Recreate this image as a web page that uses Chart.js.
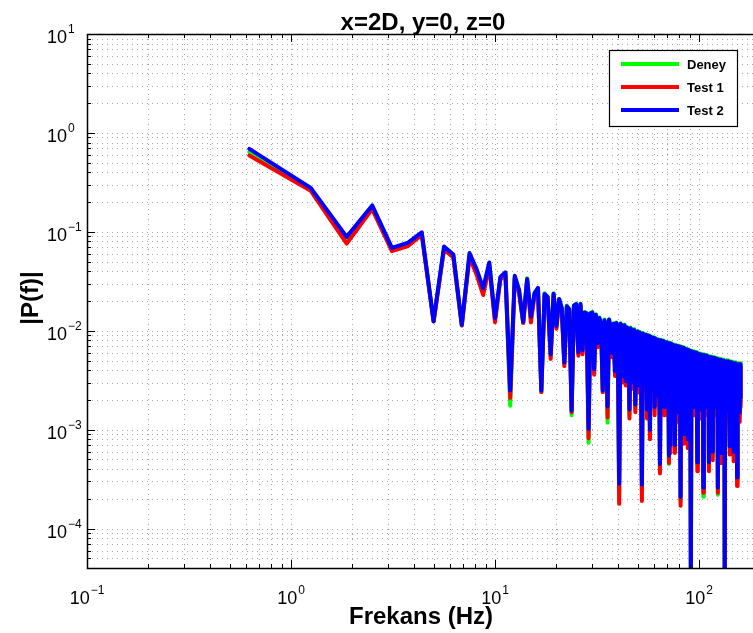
<!DOCTYPE html>
<html>
<head>
<meta charset="utf-8">
<script src="https://cdn.jsdelivr.net/npm/chart.js@4/dist/chart.umd.min.js"></script>
<style>
  html, body { margin: 0; padding: 0; background: #fff; overflow: hidden; }
  canvas { display: block; }
</style>
</head>
<body>
<canvas id="c" width="753" height="633"></canvas>
<script>
// FFT bin frequencies (Hz)
const frekans = [
  0.625,1.25,1.875,2.5,3.125,3.75,4.375,5,
  5.625,6.25,6.875,7.5,8.125,8.75,9.375,10,
  10.625,11.25,11.875,12.5,13.125,13.75,14.375,15,
  15.625,16.25,16.875,17.5,18.125,18.75,19.375,20,
  20.625,21.25,21.875,22.5,23.125,23.75,24.375,25,
  25.625,26.25,26.875,27.5,28.125,28.75,29.375,30,
  30.625,31.25,31.875,32.5,33.125,33.75,34.375,35,
  35.625,36.25,36.875,37.5,38.125,38.75,39.375,40,
  40.625,41.25,41.875,42.5,43.125,43.75,44.375,45,
  45.625,46.25,46.875,47.5,48.125,48.75,49.375,50,
  50.625,51.25,51.875,52.5,53.125,53.75,54.375,55,
  55.625,56.25,56.875,57.5,58.125,58.75,59.375,60,
  60.625,61.25,61.875,62.5,63.125,63.75,64.375,65,
  65.625,66.25,66.875,67.5,68.125,68.75,69.375,70,
  70.625,71.25,71.875,72.5,73.125,73.75,74.375,75,
  75.625,76.25,76.875,77.5,78.125,78.75,79.375,80,
  80.625,81.25,81.875,82.5,83.125,83.75,84.375,85,
  85.625,86.25,86.875,87.5,88.125,88.75,89.375,90,
  90.625,91.25,91.875,92.5,93.125,93.75,94.375,95,
  95.625,96.25,96.875,97.5,98.125,98.75,99.375,100,
  100.625,101.25,101.875,102.5,103.125,103.75,104.375,105,
  105.625,106.25,106.875,107.5,108.125,108.75,109.375,110,
  110.625,111.25,111.875,112.5,113.125,113.75,114.375,115,
  115.625,116.25,116.875,117.5,118.125,118.75,119.375,120,
  120.625,121.25,121.875,122.5,123.125,123.75,124.375,125,
  125.625,126.25,126.875,127.5,128.125,128.75,129.375,130,
  130.625,131.25,131.875,132.5,133.125,133.75,134.375,135,
  135.625,136.25,136.875,137.5,138.125,138.75,139.375,140,
  140.625,141.25,141.875,142.5,143.125,143.75,144.375,145,
  145.625,146.25,146.875,147.5,148.125,148.75,149.375,150,
  150.625,151.25,151.875,152.5,153.125,153.75,154.375,155,
  155.625,156.25,156.875,157.5,158.125,158.75,159.375,160
];

// |P(f)| - measurement
const deney = [
  0.64,0.27,0.083,0.18,0.067,0.075,0.096,0.0125,
  0.068,0.057,0.0113,0.058,0.04,0.025,0.047,0.013,
  0.034,0.038,0.00175,0.035,0.025,0.012,0.034,0.013,
  0.024,0.027,0.0024,0.024,0.022,0.0055,0.024,0.011,
  0.021,0.017,0.0046,0.018,0.0165,0.0014,0.018,0.0188,
  0.0058,0.0188,0.0062,0.0155,0.0152,0.00074,0.0152,0.0155,
  0.0039,0.0147,0.0072,0.0137,0.0112,0.0024,0.013,0.0117,
  0.00118,0.0131,0.0106,0.0058,0.0119,0.0037,0.0121,0.0086,
  0.00022,0.0119,0.0111,0.0033,0.0116,0.0029,0.0109,0.0101,
  0.0014,0.0108,0.0091,0.0028,0.0104,0.0016,0.0096,0.0099,
  0.0026,0.0098,0.0086,0.00024,0.0095,0.0091,0.0028,0.0092,
  0.0015,0.009,0.0085,0.0009,0.0088,0.0081,0.0028,0.0086,
  0.0016,0.0084,0.0081,0.002,0.0082,0.0073,0.0004,0.0081,
  0.0077,0.0023,0.008,0.0016,0.0078,0.0075,0.0019,0.0077,
  0.0069,0.00045,0.0076,0.00065,0.0075,0.0071,0.0019,0.0073,
  0.0067,0.00065,0.0072,0.0069,0.0017,0.0071,0.0014,0.007,
  0.0065,0.00019,0.0069,0.0067,0.0015,0.0068,0.00085,0.0067,
  0.0063,0.0017,0.0066,0.0065,0.00075,0.0065,0.0018,0.0064,
  0.0061,0.000028,0.0063,0.006,0.0019,0.0062,0.0059,0.0016,
  0.0061,0.002,0.0061,0.0058,0.00044,0.006,0.0057,0.0018,
  0.0059,0.0015,0.0059,0.0056,0.0019,0.0058,0.0055,0.00021,
  0.0058,0.0056,0.0017,0.0057,0.0016,0.0057,0.0054,0.0018,
  0.0056,0.0054,0.00044,0.0055,0.0017,0.0055,0.0053,0.0016,
  0.0055,0.0052,0.00056,0.0054,0.0017,0.0054,0.0052,0.0016,
  0.0053,0.0051,0.0017,0.0053,0.0051,0.00022,0.0052,0.0017,
  0.0052,0.005,0.0015,0.0052,0.005,0.00055,0.0051,0.0016,
  0.0051,0.0049,0.0016,0.0051,0.0049,0.000023,0.005,0.0049,
  0.0016,0.005,0.0015,0.005,0.0048,0.0016,0.005,0.0048,
  0.0015,0.0049,0.00064,0.0049,0.0047,0.0015,0.0049,0.0047,
  0.0016,0.0048,0.0047,0.00056,0.0048,0.0016,0.0048,0.0046,
  0.0015,0.0048,0.0046,0.0015,0.0047,0.00031,0.0047,0.0046,
  0.0015,0.0047,0.0045,0.0016,0.0047,0.0014,0.0047,0.0019
];

// |P(f)| - first test
const test1 = [
  0.59,0.26,0.076,0.17,0.064,0.072,0.093,0.0124,
  0.066,0.055,0.0113,0.055,0.037,0.023,0.045,0.0122,
  0.033,0.037,0.0021,0.034,0.024,0.012,0.032,0.0121,
  0.023,0.026,0.0024,0.0225,0.021,0.0052,0.023,0.0105,
  0.02,0.0163,0.0044,0.017,0.016,0.0015,0.0175,0.018,
  0.0056,0.018,0.0058,0.0148,0.0145,0.00082,0.0146,0.0148,
  0.0036,0.014,0.0068,0.013,0.0105,0.0024,0.0124,0.011,
  0.00133,0.0126,0.0101,0.0054,0.0114,0.0035,0.0116,0.008,
  0.000178,0.0115,0.0106,0.003,0.011,0.0028,0.0105,0.0096,
  0.0013,0.0103,0.0086,0.0026,0.0099,0.0015,0.0092,0.0095,
  0.0024,0.0093,0.0081,0.00019,0.0091,0.0087,0.0026,0.0088,
  0.0013,0.0086,0.0081,0.0008,0.0084,0.0077,0.0026,0.0082,
  0.0014,0.008,0.0077,0.0018,0.0078,0.0069,0.00036,0.0077,
  0.0073,0.0021,0.0076,0.0014,0.0074,0.0071,0.0017,0.0073,
  0.0065,0.00046,0.0072,0.00058,0.0071,0.0067,0.0017,0.0069,
  0.0063,0.00058,0.0068,0.0065,0.0015,0.0067,0.0012,0.0066,
  0.0061,0.00017,0.0065,0.0063,0.0013,0.0064,0.00072,0.0063,
  0.0059,0.0015,0.0062,0.0061,0.00065,0.0061,0.0016,0.006,
  0.0057,0.000025,0.0059,0.0056,0.0017,0.0058,0.0055,0.0014,
  0.0057,0.0018,0.0057,0.0054,0.00038,0.0056,0.0053,0.0016,
  0.0055,0.0013,0.0055,0.0052,0.0017,0.0054,0.0051,0.00023,
  0.0054,0.0052,0.0015,0.0053,0.0014,0.0053,0.005,0.0016,
  0.0052,0.005,0.00038,0.0051,0.0015,0.0051,0.0049,0.0014,
  0.0051,0.0048,0.00049,0.005,0.0015,0.005,0.0048,0.0014,
  0.0049,0.0047,0.0015,0.0049,0.0047,0.00023,0.0048,0.0015,
  0.0048,0.0046,0.0013,0.0048,0.0046,0.00046,0.0047,0.0014,
  0.0047,0.0045,0.0014,0.0047,0.0045,0.00002,0.0046,0.0045,
  0.0014,0.0046,0.0013,0.0046,0.0044,0.0014,0.0046,0.0044,
  0.0013,0.0045,0.00056,0.0045,0.0043,0.0013,0.0045,0.0043,
  0.0014,0.0044,0.0043,0.00048,0.0044,0.0014,0.0044,0.0042,
  0.0013,0.0044,0.0042,0.0013,0.0043,0.00027,0.0043,0.0042,
  0.0013,0.0043,0.0041,0.0014,0.0043,0.0012,0.0043,0.0017
];

// |P(f)| - second test
const test2 = [
  0.69,0.278,0.089,0.185,0.069,0.078,0.099,0.0125,
  0.071,0.059,0.0115,0.061,0.042,0.027,0.049,0.0135,
  0.035,0.039,0.0025,0.036,0.026,0.0123,0.0334,0.0139,
  0.024,0.0271,0.0025,0.0235,0.022,0.0058,0.0237,0.0112,
  0.021,0.017,0.0048,0.0177,0.0165,0.00156,0.018,0.0186,
  0.0061,0.0186,0.0064,0.0153,0.015,0.00102,0.015,0.0153,
  0.0041,0.0145,0.0075,0.0135,0.011,0.0025,0.0128,0.0115,
  0.00172,0.013,0.0105,0.006,0.0118,0.0039,0.012,0.0085,
  0.000284,0.0118,0.011,0.0035,0.0114,0.0031,0.0108,0.01,
  0.0016,0.0106,0.009,0.003,0.0102,0.0018,0.0095,0.0098,
  0.0028,0.0096,0.0085,0.00028,0.0094,0.009,0.003,0.0091,
  0.0016,0.0089,0.0084,0.001,0.0087,0.008,0.003,0.0085,
  0.0017,0.0083,0.008,0.0022,0.0081,0.0072,0.00045,0.008,
  0.0076,0.0025,0.0079,0.0017,0.0077,0.0074,0.002,0.0076,
  0.0068,0.00055,0.0075,0.0007,0.0074,0.007,0.002,0.0072,
  0.0066,0.0007,0.0071,0.0068,0.0018,0.007,0.0015,0.0069,
  0.0064,0.00021,0.0068,0.0066,0.0016,0.0067,0.0009,0.0066,
  0.0062,0.0018,0.0065,0.0064,0.0008,0.0064,0.0019,0.0063,
  0.006,0.00003,0.0062,0.0059,0.002,0.0061,0.0058,0.0017,
  0.006,0.0021,0.006,0.0057,0.00047,0.0059,0.0056,0.0019,
  0.0058,0.0016,0.0058,0.0055,0.002,0.0057,0.0054,0.00026,
  0.0057,0.0055,0.0018,0.0056,0.0017,0.0056,0.0053,0.0019,
  0.0055,0.0053,0.00047,0.0054,0.0018,0.0054,0.0052,0.0017,
  0.0054,0.0051,0.0006,0.0053,0.0018,0.0053,0.0051,0.0017,
  0.0052,0.005,0.0018,0.0052,0.005,0.00026,0.0051,0.0018,
  0.0051,0.0049,0.0016,0.0051,0.0049,0.00058,0.005,0.0017,
  0.005,0.0048,0.0017,0.005,0.0048,0.000025,0.0049,0.0048,
  0.0017,0.0049,0.0016,0.0049,0.0047,0.0017,0.0049,0.0047,
  0.0016,0.0048,0.00068,0.0048,0.0046,0.0016,0.0048,0.0046,
  0.0017,0.0047,0.0046,0.0006,0.0047,0.0017,0.0047,0.0045,
  0.0016,0.0047,0.0045,0.0016,0.0046,0.00033,0.0046,0.0045,
  0.0016,0.0046,0.0044,0.0017,0.0046,0.0015,0.0046,0.0021
];

const seriesNames = ['Deney', 'Test 1', 'Test 2'];
const seriesColors = ['#00ff00', '#ff0000', '#0000ff'];
const xTickExp = [-1, 0, 1, 2];
const yTickExp = [1, 0, -1, -2, -3, -4];

const FONT = '"Liberation Sans", Arial, Helvetica, sans-serif';

function points(vals) {
  return vals.map((v, i) => ({ x: frekans[i], y: v }));
}

// decade and in-between values (1..9 x 10^e) inside [lo, hi]
function logSteps(lo, hi) {
  const out = [];
  const e0 = Math.floor(Math.log10(lo)) - 1;
  const e1 = Math.ceil(Math.log10(hi)) + 1;
  for (let e = e0; e <= e1; e++) {
    for (let m = 1; m <= 9; m++) {
      const v = m * Math.pow(10, e);
      if (v >= lo * 0.9999 && v <= hi * 1.0001) out.push({ v, major: m === 1 });
    }
  }
  return out;
}

function drawPower(ctx, exp, x, baseY, centered) {
  const base = '10';
  const sup = String(exp).replace('-', '\u2212');
  ctx.font = '18px ' + FONT;
  const wb = ctx.measureText(base).width;
  ctx.font = '12px ' + FONT;
  const ws = ctx.measureText(sup).width;
  const x0 = centered ? x - (wb + ws + 1) / 2 : x;
  ctx.textAlign = 'left';
  ctx.textBaseline = 'alphabetic';
  ctx.font = '18px ' + FONT;
  ctx.fillText(base, x0, baseY);
  ctx.font = '12px ' + FONT;
  ctx.fillText(sup, x0 + wb + 1, baseY - 10);
}

const axesFrame = {
  id: 'axesFrame',
  beforeDraw(chart) {
    const ctx = chart.ctx;
    ctx.save();
    ctx.fillStyle = '#ffffff';
    ctx.fillRect(0, 0, chart.width, chart.height);
    ctx.restore();
  },
  beforeDatasetsDraw(chart) {
    const { ctx, chartArea: a, scales } = chart;
    const xs = scales.x, ys = scales.y;
    ctx.save();
    ctx.strokeStyle = '#a8a8a8';
    ctx.lineWidth = 1;
    ctx.setLineDash([1, 4]);
    for (const t of logSteps(xs.min, xs.max)) {
      const px = Math.round(xs.getPixelForValue(t.v)) + 0.5;
      if (px <= a.left + 1 || px >= a.right) continue;
      ctx.beginPath(); ctx.moveTo(px, a.top); ctx.lineTo(px, a.bottom); ctx.stroke();
    }
    for (const t of logSteps(ys.min, ys.max)) {
      const py = Math.round(ys.getPixelForValue(t.v)) + 0.5;
      if (py <= a.top + 1 || py >= a.bottom - 1) continue;
      ctx.beginPath(); ctx.moveTo(a.left, py); ctx.lineTo(a.right, py); ctx.stroke();
    }
    ctx.restore();
  },
  afterDatasetsDraw(chart) {
    const { ctx, chartArea: a, scales } = chart;
    const xs = scales.x, ys = scales.y;
    ctx.save();
    ctx.setLineDash([]);

    // axes box (left, top, bottom)
    ctx.strokeStyle = '#000';
    ctx.lineWidth = 1.5;
    ctx.beginPath();
    ctx.moveTo(a.right + 2, a.top + 0.5);
    ctx.lineTo(a.left + 0.5, a.top + 0.5);
    ctx.lineTo(a.left + 0.5, a.bottom + 0.5);
    ctx.lineTo(a.right + 2, a.bottom + 0.5);
    ctx.stroke();

    // tick marks pointing into the axes
    ctx.lineWidth = 1;
    for (const t of logSteps(xs.min, xs.max)) {
      const px = Math.round(xs.getPixelForValue(t.v)) + 0.5;
      const len = t.major ? 8 : 4;
      ctx.beginPath();
      ctx.moveTo(px, a.bottom); ctx.lineTo(px, a.bottom - len);
      ctx.moveTo(px, a.top); ctx.lineTo(px, a.top + len);
      ctx.stroke();
    }
    for (const t of logSteps(ys.min, ys.max)) {
      const py = Math.round(ys.getPixelForValue(t.v)) + 0.5;
      const len = t.major ? 8 : 4;
      ctx.beginPath();
      ctx.moveTo(a.left, py); ctx.lineTo(a.left + len, py);
      ctx.stroke();
    }

    // tick labels
    ctx.fillStyle = '#000';
    for (const e of xTickExp) {
      const px = xs.getPixelForValue(Math.pow(10, e));
      drawPower(ctx, e, px, a.bottom + 36, true);
    }
    for (const e of yTickExp) {
      const py = ys.getPixelForValue(Math.pow(10, e));
      drawPower(ctx, e, 47, py + 9, false);
    }

    // legend
    const lx = 609, ly = 50, lw = 129, lh = 77;
    ctx.fillStyle = '#fff';
    ctx.fillRect(lx, ly, lw, lh);
    ctx.strokeStyle = '#000';
    ctx.lineWidth = 1.2;
    ctx.strokeRect(lx + 0.5, ly + 0.5, lw - 1, lh - 1);
    ctx.font = 'bold 13px ' + FONT;
    ctx.textAlign = 'left';
    ctx.textBaseline = 'middle';
    chart.data.datasets.forEach((ds, i) => {
      const ry = ly + 14 + i * 23;
      ctx.strokeStyle = ds.borderColor;
      ctx.lineWidth = 4;
      ctx.beginPath(); ctx.moveTo(lx + 12, ry); ctx.lineTo(lx + 70, ry); ctx.stroke();
      ctx.fillStyle = '#000';
      ctx.fillText(ds.label, lx + 78, ry + 1);
    });

    // title and axis titles
    ctx.fillStyle = '#000';
    ctx.font = 'bold 24px ' + FONT;
    ctx.textAlign = 'center';
    ctx.textBaseline = 'alphabetic';
    ctx.fillText('x=2D, y=0, z=0', 423, 30);
    ctx.fillText('Frekans (Hz)', 421, 624);
    ctx.translate(31, 298);
    ctx.rotate(-Math.PI / 2);
    ctx.textBaseline = 'middle';
    ctx.fillText('|P(f)|', 0, 0);
    ctx.restore();
  }
};

new Chart(document.getElementById('c'), {
  type: 'line',
  data: {
    datasets: [
      { label: seriesNames[0], data: points(deney), borderColor: seriesColors[0], order: 3 },
      { label: seriesNames[1], data: points(test1), borderColor: seriesColors[1], order: 2 },
      { label: seriesNames[2], data: points(test2), borderColor: seriesColors[2], order: 1 }
    ]
  },
  options: {
    responsive: false,
    animation: false,
    devicePixelRatio: 1,
    layout: { padding: { left: 87, top: 34, right: 0, bottom: 65 } },
    datasets: {
      line: {
        borderWidth: 4,
        pointRadius: 0,
        tension: 0,
        fill: false,
        borderJoinStyle: 'round',
        borderCapStyle: 'round'
      }
    },
    plugins: {
      legend: { display: false },
      title: { display: false },
      tooltip: { enabled: false }
    },
    scales: {
      x: { type: 'logarithmic', min: 0.1, max: 184, display: false },
      y: { type: 'logarithmic', min: 4e-5, max: 10, display: false }
    }
  },
  plugins: [axesFrame]
});
</script>
</body>
</html>
